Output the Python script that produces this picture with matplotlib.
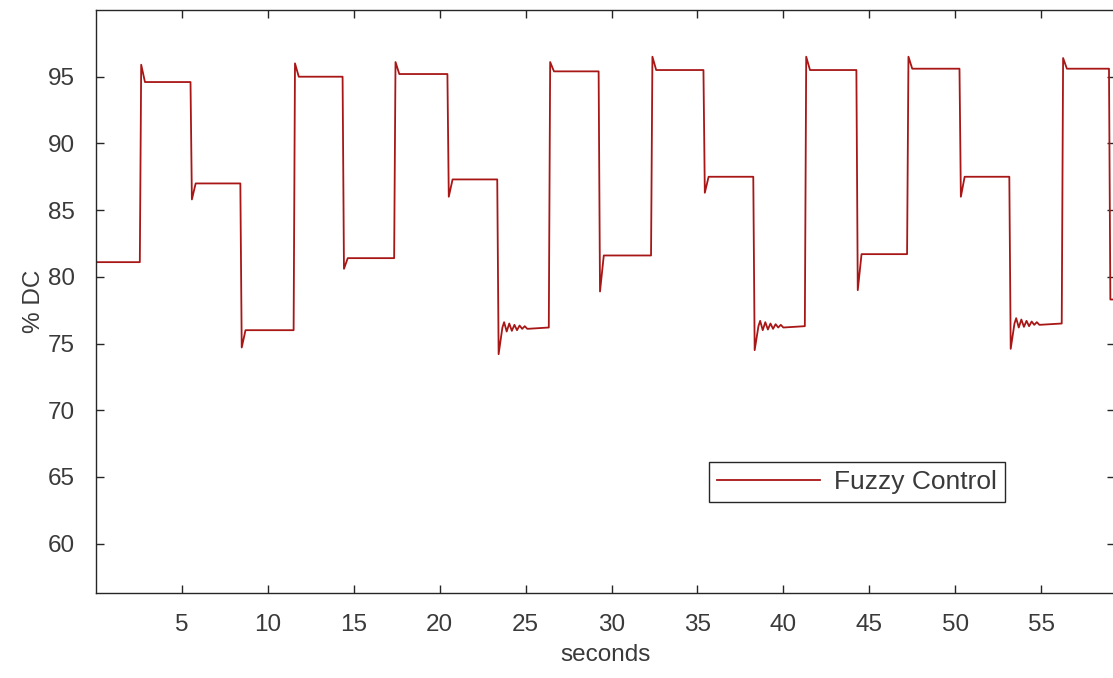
import numpy as np
import matplotlib.pyplot as plt

# step changes of the duty cycle
start_level = 81.1
switch_t = [2.55, 5.5, 8.4, 11.5, 14.35, 17.35, 20.45, 23.35, 26.35, 29.25,
            32.3, 35.35, 38.25, 41.25, 44.25, 47.2, 50.25, 53.15, 56.2, 58.95]
level = [94.6, 87.0, 76.0, 95.0, 81.4, 95.2, 87.3, 76.2, 95.4, 81.6,
         95.5, 87.5, 76.3, 95.5, 81.7, 95.6, 87.5, 76.5, 95.6, 78.3]
peak = [95.9, 85.8, 74.7, 96.0, 80.6, 96.1, 86.0, 74.2, 96.1, 78.9,
        96.5, 86.3, 74.5, 96.5, 79.0, 96.5, 86.0, 74.6, 96.4, 78.3]
ripple = [0, 0, 0, 0, 0, 0, 0, 1, 0, 0, 0, 0, 1, 0, 0, 0, 0, 1, 0, 0]
ripple_offsets = [0.4, -0.3, 0.3, -0.25, 0.2, -0.2, 0.15, -0.1, 0.1, -0.1]
x_ticks = [5, 10, 15, 20, 25, 30, 35, 40, 45, 50, 55]
y_ticks = [60, 65, 70, 75, 80, 85, 90, 95]

# build the polyline
t = [0.0]
y = [start_level]
prev = start_level
for i in range(len(switch_t)):
    s = switch_t[i]
    t += [s, s + 0.08]
    y += [prev, peak[i]]
    t.append(s + 0.3)
    y.append(level[i])
    if ripple[i]:
        for k, off in enumerate(ripple_offsets):
            t.append(s + 0.4 + 0.15 * k)
            y.append(level[i] + off)
    prev = level[i]
t.append(60)
y.append(prev)

txt = '#3a3a3a'
plt.rcParams['font.family'] = ['Liberation Sans', 'DejaVu Sans']

fig = plt.figure(figsize=(11.13, 6.78), dpi=100)
ax = fig.add_axes([96 / 1113, 85 / 678, 1019 / 1113, 583 / 678])
ax.plot(t, y, color='#a81616', lw=1.3, label='Fuzzy Control')

ax.set_xlim(0, 59.3)
ax.set_ylim(56.3, 100)
ax.set_xticks(x_ticks)
ax.set_yticks(y_ticks)
ax.tick_params(direction='in', length=6, width=1, top=True, right=True,
               labelsize=17.5, labelcolor=txt, color='#262626', pad=15)
for sp in ax.spines.values():
    sp.set_color('#262626')
    sp.set_linewidth(1)

ax.set_xlabel('seconds', fontsize=17.5, color=txt, labelpad=6)
ax.set_ylabel('% DC', fontsize=17.5, color=txt, labelpad=2)

leg = ax.legend(loc='center', bbox_to_anchor=(857 / 1113, 1 - 482 / 678),
                bbox_transform=fig.transFigure, fontsize=19, handlelength=3.9,
                fancybox=False, framealpha=1, edgecolor='#262626',
                borderpad=0.3, borderaxespad=0, handletextpad=0.55)
leg.get_frame().set_linewidth(1)
for tx in leg.get_texts():
    tx.set_color(txt)

fig.savefig('out.png', dpi=100)
